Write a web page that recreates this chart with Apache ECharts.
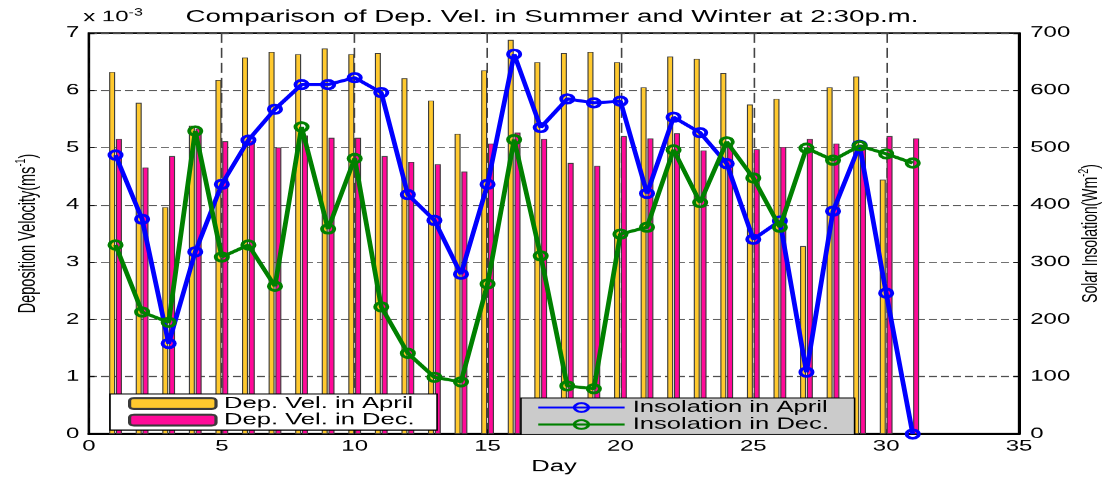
<!DOCTYPE html>
<html>
<head>
<meta charset="utf-8">
<script src="https://cdn.jsdelivr.net/npm/echarts@6/dist/echarts.min.js"></script>
<style>
html,body{margin:0;padding:0;background:#fff;overflow:hidden;}
#wrap{width:1104px;height:480px;overflow:hidden;}
#c{width:690px;height:480px;transform:scaleX(1.6);transform-origin:0 0;}
</style>
</head>
<body>
<div id="wrap"><div id="c"></div></div>
<script>
// ---- data ----
const days = [1,2,3,4,5,6,7,8,9,10,11,12,13,14,15,16,17,18,19,20,21,22,23,24,25,26,27,28,29,30,31];
// deposition velocity (x 10^-3 m/s)
const aprilDep = [6.32,5.78,3.96,5.38,6.18,6.57,6.67,6.63,6.73,6.63,6.65,6.21,5.82,5.24,6.35,6.88,6.49,6.65,6.67,6.49,6.05,6.59,6.55,6.30,5.75,5.85,3.28,6.05,6.24,4.44];
const decDep = [5.15,4.65,4.85,5.33,5.11,5.12,5.00,5.21,5.17,5.17,4.85,4.75,4.71,4.58,5.07,5.26,5.15,4.73,4.68,5.20,5.16,5.25,4.95,5.05,4.97,5.01,5.15,5.07,5.05,5.20,5.16];
// solar insolation (W m^-2)
const aprilIns = [487,375,158,318,436,513,567,610,610,622,596,418,373,279,436,663,535,585,578,581,420,553,526,472,340,372,108,389,504,246,0];
const decIns = [330,213,195,529,309,330,258,536,358,481,222,141,99,91,262,514,311,84,79,349,361,496,404,510,447,361,499,478,503,489,473];
const xTicks = {min:0, max:35, interval:5};
const yLeftTicks = {min:0, max:7, interval:1};
const yRightTicks = {min:0, max:700, interval:100};
const names = ['Dep. Vel. in April','Dep. Vel. in Dec.','Insolation in April','Insolation in Dec.'];

const pair = (arr) => arr.map((v,i)=>[days[i], v]);
const FONT = 'Liberation Sans';

const chart = echarts.init(document.getElementById('c'), null, {renderer:'canvas', devicePixelRatio:1.6});
const axisText = {color:'#000', fontFamily:FONT, fontSize:15};
chart.setOption({
  animation:false,
  backgroundColor:'#fff',
  title:{
    text:'Comparison of Dep. Vel. in Summer and Winter at 2:30p.m.',
    left:'center', top:8.5, padding:0,
    textStyle:{color:'#000', fontFamily:FONT, fontSize:17.4, fontWeight:'normal'}
  },
  graphic:[{
    type:'text', left:52, top:8,
    style:{text:'x 10{s|-3}', fontFamily:FONT, fontSize:15, fill:'#000',
      rich:{s:{fontSize:10, verticalAlign:'top', padding:[0,0,8,0], fontFamily:FONT, fill:'#000'}}}
  }],
  grid:{left:55.6, right:53.1, top:33, bottom:46, show:true, borderColor:'#000', borderWidth:1.5,
    backgroundColor:'transparent', containLabel:false, outerBoundsMode:'none'},
  legend:[
    {data:[names[0],names[1]], orient:'vertical', left:68.75, top:394, itemWidth:54, itemHeight:11, itemGap:0.6,
     padding:[1.5,14,2,11.25], backgroundColor:'#fff', borderColor:'#000', borderWidth:1, selectedMode:false,
     textStyle:{color:'#000', fontFamily:FONT, fontSize:16}},
    {data:[names[2],names[3]], orient:'vertical', left:325.6, top:398, itemWidth:54, itemHeight:11, itemGap:1,
     padding:[1.5,16,2,9.8], backgroundColor:'#cbcbcb', borderColor:'#000', borderWidth:1, selectedMode:false,
     textStyle:{color:'#000', fontFamily:FONT, fontSize:16}}
  ],
  xAxis:{
    type:'value', min:xTicks.min, max:xTicks.max, interval:xTicks.interval,
    name:'Day', nameLocation:'middle', nameGap:24, nameTextStyle:{color:'#000', fontFamily:FONT, fontSize:16},
    axisLine:{show:true, lineStyle:{color:'#000', width:2}},
    axisTick:{show:true, inside:true, length:5, lineStyle:{color:'#000', width:1}},
    axisLabel:Object.assign({margin:5}, axisText),
    splitLine:{show:true, lineStyle:{color:'#444', width:1, type:[10,5]}}
  },
  yAxis:[{
    type:'value', position:'left', min:yLeftTicks.min, max:yLeftTicks.max, interval:yLeftTicks.interval,
    name:'Deposition Velocity(ms{s|-1})', nameLocation:'middle', nameRotate:90, nameGap:29,
    nameTextStyle:{color:'#000', fontFamily:FONT, fontSize:14.5, lineHeight:18,
      rich:{s:{fontSize:9, verticalAlign:'top', padding:[0,0,7,0], fontFamily:FONT, color:'#000'}}},
    axisLine:{show:true, lineStyle:{color:'#000', width:1.25}},
    axisTick:{show:true, inside:true, length:3.5, lineStyle:{color:'#000', width:1}},
    axisLabel:Object.assign({margin:6}, axisText),
    splitLine:{show:true, lineStyle:{color:'#444', width:1, type:[5,2.5]}}
  },{
    type:'value', position:'right', min:yRightTicks.min, max:yRightTicks.max, interval:yRightTicks.interval,
    name:'Solar Insolation(Wm{s|-2})', nameLocation:'middle', nameRotate:90, nameGap:36, nameMoveOverlap:false,
    nameTextStyle:{color:'#000', fontFamily:FONT, fontSize:14, lineHeight:18,
      rich:{s:{fontSize:9, verticalAlign:'top', padding:[0,0,7,0], fontFamily:FONT, color:'#000'}}},
    axisLine:{show:true, lineStyle:{color:'#000', width:1.25}},
    axisTick:{show:true, inside:true, length:3.5, lineStyle:{color:'#000', width:1}},
    axisLabel:Object.assign({margin:7}, axisText),
    splitLine:{show:false}
  }],
  series:[
    {name:names[0], type:'bar', yAxisIndex:0, data:pair(aprilDep), barWidth:3.75, barGap:'13%',
     itemStyle:{color:'#FFC92E', borderColor:'#3a3a3a', borderWidth:0.7}},
    {name:names[1], type:'bar', yAxisIndex:0, data:pair(decDep), barWidth:3.75, barGap:'13%',
     itemStyle:{color:'#FF0A98', borderColor:'#3a3a3a', borderWidth:0.7}},
    {name:names[2], type:'line', yAxisIndex:1, data:pair(aprilIns), symbol:'circle', symbolSize:[7.6,8.5],
     lineStyle:{color:'#0000FF', width:3}, itemStyle:{color:'transparent', borderColor:'#0000FF', borderWidth:2.6}, z:3},
    {name:names[3], type:'line', yAxisIndex:1, data:pair(decIns), symbol:'circle', symbolSize:[7.6,8.5],
     lineStyle:{color:'#008000', width:3}, itemStyle:{color:'transparent', borderColor:'#008000', borderWidth:2.6}, z:4}
  ]
});
</script>
</body>
</html>
